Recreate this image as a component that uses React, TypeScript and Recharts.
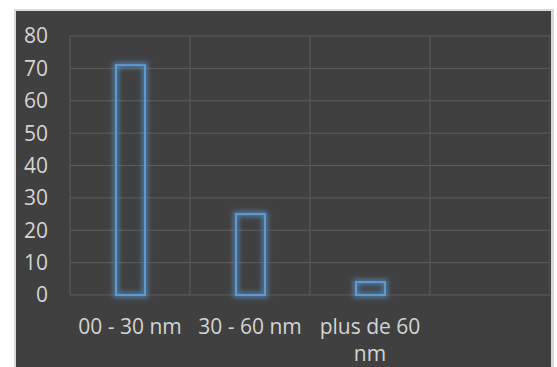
import React from "react";
import { BarChart, Bar, XAxis, YAxis, CartesianGrid } from "recharts";

const categories = ["00 - 30 nm", "30 - 60 nm", "plus de 60 nm", ""];
const values: (number | null)[] = [71, 25, 4, null];
const yTicks = [0, 10, 20, 30, 40, 50, 60, 70, 80];

const data = categories.map((c, i) => ({ name: c, value: values[i] }));

const BLUE = "#5b9bd5";
const TEXT = "#d4d4d4";
const FONT = "'Open Sans', sans-serif";
const FONT_SIZE = 21;

let measureCtx: CanvasRenderingContext2D | null = null;
const measure = (s: string) => {
  if (!measureCtx) {
    const c = document.createElement("canvas");
    measureCtx = c.getContext("2d");
  }
  if (!measureCtx) return s.length * FONT_SIZE * 0.55;
  measureCtx.font = `${FONT_SIZE}px ${FONT}`;
  return measureCtx.measureText(s).width;
};

const wrap = (label: string, maxWidth: number) => {
  const words = label.split(" ");
  const lines: string[] = [];
  let cur = "";
  words.forEach((w) => {
    const next = cur ? `${cur} ${w}` : w;
    if (cur && measure(next) > maxWidth) {
      lines.push(cur);
      cur = w;
    } else {
      cur = next;
    }
  });
  if (cur) lines.push(cur);
  return lines;
};

const GlowBar = (props: any) => {
  const { x, y, width, height, index } = props;
  if (height == null || height <= 0) return null;
  const id = `glow-${index}`;
  return (
    <g>
      <defs>
        <filter id={id} x="-50%" y="-50%" width="200%" height="200%">
          <feGaussianBlur stdDeviation="2.5" />
        </filter>
      </defs>
      <rect x={x} y={y} width={width} height={height} fill="none" stroke={BLUE} strokeOpacity={0.6} strokeWidth={6} filter={`url(#${id})`} />
      <rect x={x} y={y} width={width} height={height} fill="none" stroke={BLUE} strokeWidth={2} />
    </g>
  );
};

const XTick = (props: any) => {
  const { x, y, payload } = props;
  const lines = wrap(String(payload.value ?? ""), 115);
  return (
    <text x={x} y={y} textAnchor="middle" fill={TEXT} fontSize={FONT_SIZE} fontFamily={FONT}>
      {lines.map((l, i) => (
        <tspan key={i} x={x} dy={i === 0 ? 15 : 27}>
          {l}
        </tspan>
      ))}
    </text>
  );
};

export default function App() {
  return (
    <div style={{ position: "absolute", left: 0, top: 0, width: 557, height: 367, background: "#fff", overflow: "hidden" }}>
      <div
        style={{
          position: "absolute",
          left: 14,
          top: 9,
          width: 540,
          height: 380,
          background: "#404040",
          border: "2px solid #d9d9d9",
          borderRight: "3px solid #d9d9d9",
          boxSizing: "border-box",
        }}
      >
        <BarChart
          width={534}
          height={370}
          data={data}
          margin={{ top: 25, right: 0, left: 0, bottom: 0 }}
          barSize={29}
        >
          <CartesianGrid
            stroke="#5c5c5c"
            strokeWidth={1}
            verticalCoordinatesGenerator={({ offset }: any) =>
              [0, 1, 2, 3, 4].map((i) => offset.left + (i * offset.width) / 4)
            }
          />
          <XAxis
            dataKey="name"
            height={86}
            axisLine={false}
            tickLine={false}
            tickSize={0}
            tickMargin={24}
            interval={0}
            tick={<XTick />}
          />
          <YAxis
            width={54}
            domain={[0, 80]}
            ticks={yTicks}
            interval={0}
            axisLine={false}
            tickLine={false}
            tickSize={0}
            tickMargin={22}
            tick={{ fill: TEXT, fontSize: FONT_SIZE, fontFamily: FONT }}
          />
          <Bar dataKey="value" isAnimationActive={false} shape={<GlowBar />} />
        </BarChart>
      </div>
    </div>
  );
}
